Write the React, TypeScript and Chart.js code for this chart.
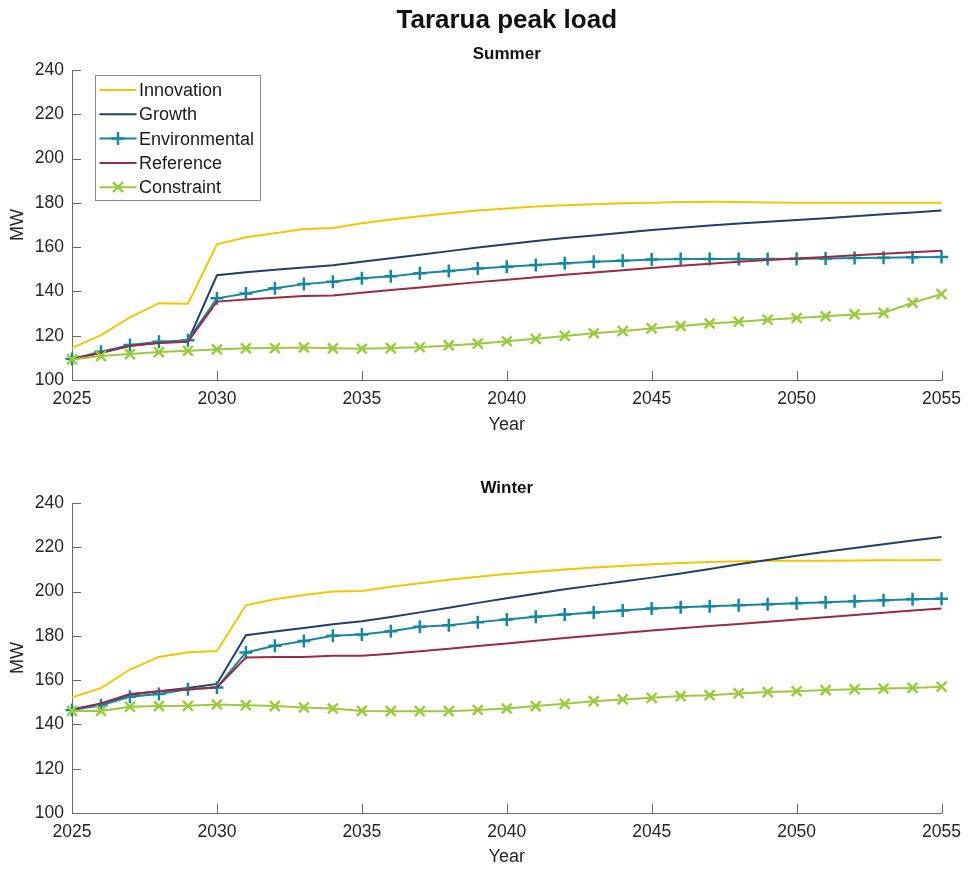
import React, { useEffect, useRef } from "react";
import { Chart, registerables } from "chart.js";

Chart.register(...registerables);

const years = [
  2025, 2026, 2027, 2028, 2029, 2030, 2031, 2032, 2033, 2034, 2035,
  2036, 2037, 2038, 2039, 2040, 2041, 2042, 2043, 2044, 2045,
  2046, 2047, 2048, 2049, 2050, 2051, 2052, 2053, 2054, 2055,
];

const seriesNames = ["Innovation", "Growth", "Environmental", "Reference", "Constraint"];

const summerInnovation = [
  114.5, 120.3, 128.3, 134.7, 134.4, 161.3, 164.5, 166.3, 168.2, 168.7, 170.8,
  172.5, 174.0, 175.3, 176.5, 177.5, 178.3, 178.9, 179.4, 179.8, 180.1,
  180.4, 180.5, 180.4, 180.2, 180.1, 180.0, 180.0, 180.0, 180.0, 180.1,
];
const summerGrowth = [
  109.5, 112.3, 115.5, 116.8, 117.6, 147.3, 148.7, 149.8, 150.8, 151.8, 153.4,
  155.0, 156.6, 158.2, 159.8, 161.3, 162.8, 164.1, 165.3, 166.5, 167.7,
  168.8, 169.8, 170.7, 171.5, 172.3, 173.1, 173.9, 174.8, 175.7, 176.5,
];
const summerEnvironmental = [
  109.5, 112.8, 115.8, 117.3, 118.0, 136.9, 139.1, 141.4, 143.3, 144.4, 145.9,
  146.8, 148.2, 149.2, 150.4, 151.2, 151.9, 152.7, 153.4, 153.9, 154.4,
  154.6, 154.6, 154.6, 154.7, 154.8, 154.9, 155.1, 155.2, 155.4, 155.5,
];
const summerReference = [
  109.5, 112.3, 115.5, 116.7, 117.3, 135.4, 136.4, 137.2, 137.9, 138.2, 139.4,
  140.6, 141.8, 143.0, 144.2, 145.3, 146.4, 147.5, 148.5, 149.6, 150.6,
  151.6, 152.5, 153.4, 154.2, 154.9, 155.6, 156.3, 157.0, 157.7, 158.4,
];
const summerConstraint = [
  109.3, 110.8, 111.7, 112.6, 113.2, 113.8, 114.3, 114.4, 114.7, 114.3, 114.1,
  114.4, 114.8, 115.6, 116.4, 117.5, 118.6, 119.9, 121.1, 122.1, 123.3,
  124.4, 125.5, 126.3, 127.2, 128.0, 128.8, 129.6, 130.3, 134.9, 138.8,
];

const winterInnovation = [
  152.2, 156.4, 164.8, 170.5, 172.6, 173.2, 193.8, 196.5, 198.4, 200.0, 200.3,
  202.2, 203.8, 205.3, 206.7, 207.9, 209.0, 210.0, 210.9, 211.6, 212.3,
  212.9, 213.4, 213.7, 213.9, 213.9, 213.9, 214.0, 214.1, 214.2, 214.3,
];
const winterGrowth = [
  146.8, 149.2, 153.4, 155.0, 156.4, 158.3, 180.3, 182.0, 183.6, 185.2, 186.6,
  188.5, 190.6, 192.7, 194.9, 197.0, 199.0, 201.0, 202.8, 204.6, 206.3,
  208.2, 210.2, 212.3, 214.3, 216.2, 218.0, 219.7, 221.4, 223.1, 224.6,
];
const winterEnvironmental = [
  146.5, 148.7, 152.5, 153.7, 155.9, 156.7, 172.5, 175.5, 177.7, 180.0, 180.6,
  182.1, 184.1, 184.8, 186.2, 187.4, 188.6, 189.6, 190.5, 191.4, 192.3,
  192.9, 193.4, 193.8, 194.3, 194.7, 195.2, 195.6, 196.1, 196.5, 196.8,
];
const winterReference = [
  146.8, 149.5, 153.7, 155.0, 155.9, 156.7, 170.2, 170.5, 170.5, 171.0, 171.0,
  171.9, 173.0, 174.2, 175.4, 176.6, 177.8, 179.0, 180.2, 181.3, 182.4,
  183.4, 184.4, 185.4, 186.4, 187.4, 188.4, 189.4, 190.4, 191.4, 192.3,
];
const winterConstraint = [
  146.1, 146.1, 148.0, 148.3, 148.4, 149.0, 148.7, 148.3, 147.7, 147.2, 146.1,
  146.0, 146.0, 146.0, 146.5, 147.2, 148.3, 149.3, 150.5, 151.3, 152.0,
  152.8, 153.2, 154.0, 154.6, 155.0, 155.5, 155.9, 156.2, 156.5, 157.0,
];

const xTickValues = [2025, 2030, 2035, 2040, 2045, 2050, 2055];
const yTickValues = [100, 120, 140, 160, 180, 200, 220, 240];

const mainTitle = "Tararua peak load";
const xAxisTitle = "Year";
const yAxisTitle = "MW";

const COLORS = ["#F3C600", "#213F6D", "#15889F", "#9E2A40", "#9CCA3E"];
const MARKERS: (string | false)[] = [false, false, "cross", false, "crossRot"];
const FONT = "'Liberation Sans', Arial, Helvetica, sans-serif";
const AXIS = "#6a6a6a";
const TEXT = "#262626";

type PanelCfg = {
  subtitle: string;
  series: number[][];
  showMain: boolean;
  showLegend: boolean;
  padTop: number;
  xHeight: number;
  subBaseline: number;
  yearCenter: number;
};

function buildChart(canvas: HTMLCanvasElement, cfg: PanelCfg) {
  const datasets = cfg.series.map((vals, i) => ({
    label: seriesNames[i],
    data: years.map((yr, k) => ({ x: yr, y: vals[k] })),
    borderColor: COLORS[i],
    backgroundColor: COLORS[i],
    borderWidth: 2,
    tension: 0,
    pointStyle: (MARKERS[i] || "circle") as any,
    pointRadius: MARKERS[i] === "cross" ? 6.5 : MARKERS[i] === "crossRot" ? 7 : 0,
    pointBorderWidth: MARKERS[i] ? 2.5 : 0,
    pointBorderColor: COLORS[i],
    pointHoverRadius: 0,
    clip: false as any,
    order: 5 - i,
  }));

  const deco = {
    id: "deco",
    beforeDatasetsDraw(chart: any) {
      const ctx = chart.ctx;
      const { left, bottom } = chart.chartArea;
      const xs = chart.scales.x;
      const ys = chart.scales.y;
      ctx.save();
      ctx.strokeStyle = AXIS;
      ctx.lineWidth = 1;
      ctx.beginPath();
      xs.ticks.forEach((t: any) => {
        const p = Math.round(xs.getPixelForValue(t.value)) + 0.5;
        ctx.moveTo(p, bottom);
        ctx.lineTo(p, bottom - 9);
      });
      ys.ticks.forEach((t: any) => {
        const p = Math.round(ys.getPixelForValue(t.value)) + 0.5;
        ctx.moveTo(left, p);
        ctx.lineTo(left + 9, p);
      });
      ctx.stroke();
      ctx.restore();
    },
    afterDraw(chart: any) {
      const ctx = chart.ctx;
      const { left, right, top, bottom } = chart.chartArea;
      const cx = (left + right) / 2;
      ctx.save();
      ctx.fillStyle = "#111";
      ctx.textAlign = "center";
      ctx.textBaseline = "alphabetic";
      if (cfg.showMain) {
        ctx.font = `bold 26px ${FONT}`;
        ctx.fillText(mainTitle, cx, 28);
      }
      ctx.font = `bold 17px ${FONT}`;
      ctx.fillText(cfg.subtitle, cx, cfg.subBaseline);

      ctx.fillStyle = TEXT;
      ctx.font = `18px ${FONT}`;
      ctx.textBaseline = "middle";
      ctx.fillText(xAxisTitle, cx, cfg.yearCenter);
      ctx.save();
      ctx.translate(18, (top + bottom) / 2);
      ctx.rotate(-Math.PI / 2);
      ctx.fillText(yAxisTitle, 0, 0);
      ctx.restore();

      if (cfg.showLegend) {
        const bx = 95.5, by = 75.5, bw = 165, bh = 125;
        ctx.fillStyle = "#ffffff";
        ctx.fillRect(bx, by, bw, bh);
        ctx.strokeStyle = "#8a8a8a";
        ctx.lineWidth = 1;
        ctx.strokeRect(bx, by, bw, bh);
        const rowY = [90, 114.3, 138.6, 162.9, 187.2];
        seriesNames.forEach((name, i) => {
          const y = rowY[i];
          ctx.strokeStyle = COLORS[i];
          ctx.lineWidth = 2;
          ctx.beginPath();
          ctx.moveTo(99.5, y);
          ctx.lineTo(136.5, y);
          ctx.stroke();
          const mx = 118;
          if (MARKERS[i] === "cross") {
            ctx.lineWidth = 2.5;
            ctx.beginPath();
            ctx.moveTo(mx - 6.5, y);
            ctx.lineTo(mx + 6.5, y);
            ctx.moveTo(mx, y - 6.5);
            ctx.lineTo(mx, y + 6.5);
            ctx.stroke();
          } else if (MARKERS[i] === "crossRot") {
            ctx.lineWidth = 2.5;
            const d = 5;
            ctx.beginPath();
            ctx.moveTo(mx - d, y - d);
            ctx.lineTo(mx + d, y + d);
            ctx.moveTo(mx - d, y + d);
            ctx.lineTo(mx + d, y - d);
            ctx.stroke();
          }
          ctx.fillStyle = "#1a1a1a";
          ctx.font = `18px ${FONT}`;
          ctx.textAlign = "left";
          ctx.textBaseline = "middle";
          ctx.fillText(name, 139, y + 1);
        });
      }
      ctx.restore();
    },
  };

  return new Chart(canvas, {
    type: "line",
    data: { datasets: datasets as any },
    options: {
      responsive: false,
      animation: false,
      devicePixelRatio: 1,
      layout: { padding: { top: cfg.padTop, right: 23, bottom: 0, left: 0 } },
      plugins: {
        legend: { display: false },
        tooltip: { enabled: false },
        title: { display: false },
      },
      events: [],
      scales: {
        x: {
          type: "linear",
          min: 2025,
          max: 2055,
          afterBuildTicks: (s: any) => {
            s.ticks = xTickValues.map((v) => ({ value: v }));
          },
          afterFit: (s: any) => {
            s.height = cfg.xHeight;
          },
          grid: { display: true, drawOnChartArea: false, drawTicks: false },
          border: { display: true, color: AXIS, width: 1 },
          ticks: {
            callback: (v: any) => String(v),
            color: TEXT,
            font: { family: FONT, size: 17.5 },
            padding: 9,
            maxRotation: 0,
            autoSkip: false,
          },
        },
        y: {
          type: "linear",
          min: 100,
          max: 240,
          afterBuildTicks: (s: any) => {
            s.ticks = yTickValues.map((v) => ({ value: v }));
          },
          afterFit: (s: any) => {
            s.width = 72;
          },
          grid: { display: true, drawOnChartArea: false, drawTicks: false },
          border: { display: true, color: AXIS, width: 1 },
          ticks: {
            callback: (v: any) => String(v),
            color: TEXT,
            font: { family: FONT, size: 17.5 },
            padding: 8,
            autoSkip: false,
          },
        },
      },
    } as any,
    plugins: [deco],
  });
}

export default function App() {
  const topRef = useRef<HTMLCanvasElement | null>(null);
  const botRef = useRef<HTMLCanvasElement | null>(null);

  useEffect(() => {
    const charts: Chart[] = [];
    if (topRef.current) {
      charts.push(
        buildChart(topRef.current, {
          subtitle: "Summer",
          series: [summerInnovation, summerGrowth, summerEnvironmental, summerReference, summerConstraint],
          showMain: true,
          showLegend: true,
          padTop: 70,
          xHeight: 55,
          subBaseline: 59,
          yearCenter: 425,
        })
      );
    }
    if (botRef.current) {
      charts.push(
        buildChart(botRef.current, {
          subtitle: "Winter",
          series: [winterInnovation, winterGrowth, winterEnvironmental, winterReference, winterConstraint],
          showMain: false,
          showLegend: false,
          padTop: 68,
          xHeight: 57,
          subBaseline: 58,
          yearCenter: 422,
        })
      );
    }
    return () => charts.forEach((c) => c.destroy());
  }, []);

  return (
    <div style={{ position: "absolute", left: 0, top: 0, width: 970, height: 870, background: "#fff" }}>
      <canvas ref={topRef} width={970} height={435} style={{ position: "absolute", left: 0, top: 0, width: 970, height: 435 }} />
      <canvas ref={botRef} width={970} height={435} style={{ position: "absolute", left: 0, top: 435, width: 970, height: 435 }} />
    </div>
  );
}
